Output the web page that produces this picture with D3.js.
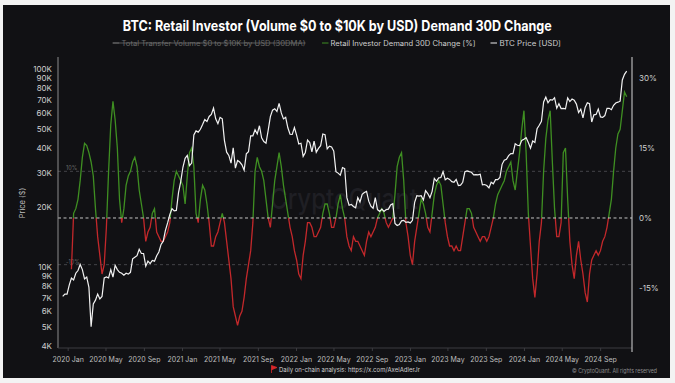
<!DOCTYPE html>
<html><head><meta charset="utf-8">
<script src="https://cdn.jsdelivr.net/npm/d3@7"></script>
<style>
html,body{margin:0;padding:0;background:#f3f3f3;}
svg{display:block;}
</style></head><body>
<svg id="c" width="675" height="383"></svg>
<script>
// ---------- data ----------
const titleText = "BTC: Retail Investor (Volume $0 to $10K by USD) Demand 30D Change";
const legendLabels = ["Total Transfer Volume $0 to $10K by USD (30DMA)", "Retail Investor Demand 30D Change [%]", "BTC Price [USD]"];
const priceTicks = [4000,5000,6000,7000,8000,9000,10000,20000,30000,40000,50000,60000,70000,80000,90000,100000];
const pctTicks = [-15, 0, 15, 30];
const guideLevels = [-10, 10];
const footerNote = "Daily on-chain analysis: https://x.com/AxelAdlerJr";
const copyright = "© CryptoQuant. All rights reserved";

// weekly (Mondays) from 2019-12-16 to 2024-11-25
const btcPrice = [
 7100,7300,7300,
 8100,8800,8600,9300,9600,10300,9700,8700,8900,7900,5000,6500,6800,7300,6900,7100,8800,8900,8800,9700,8900,10200,9700,9400,9300,9100,9300,9200,9400,11000,11200,11400,12300,11700,11700,10100,10700,10400,10800,10700,11400,11900,13000,13500,15300,16700,18400,19700,19200,19300,23800,27000,
 31900,35400,36600,32500,33500,46400,48700,48000,49600,52400,55600,54300,57600,59000,63500,56000,53000,57000,56000,43500,38000,36600,33500,40000,31600,34500,33900,32800,30800,37300,38200,46000,46000,49300,47000,51700,44900,43000,42200,49000,57500,62000,63000,61000,67000,60000,56000,57000,50500,46800,46700,50600,
 46400,41800,42200,36200,37900,43800,42500,38200,43200,38000,39700,41000,47000,46600,39500,40800,40400,38500,30300,29800,29100,31800,31400,22400,20500,20700,20200,19900,22400,21300,23300,23800,24100,21500,20300,19800,22400,19500,19100,19600,19100,19500,19600,20600,20900,16600,16200,16400,17100,17200,16800,16900,
 16700,17200,21200,22900,22800,22900,21800,24300,23500,22400,24100,28000,27100,28200,28300,30300,27600,28100,27700,27000,26800,27700,25800,25900,26800,30300,30600,30300,30100,29200,29300,29200,29400,26000,26100,25800,25100,26800,26300,27600,27600,28300,33000,34600,35000,36500,37400,37400,41900,41200,41000,43600,
 44200,45000,42500,39800,43300,42600,49900,52000,54500,68200,72100,67500,70000,69700,71600,63400,66800,63100,63200,62900,71400,68500,70500,69600,66500,60300,62700,56700,64000,67600,66800,54000,58700,59000,62800,57300,57000,58200,63300,63300,62300,65600,67300,68000,68800,88000,94000,97500
];
// retail investor demand 30D change (%), same weeks (first 4 weeks without data)
const retailDemand = [
 null,null,null,null,
 -11,1,2,4,8,13,16,15.5,14,12,
 9,2,-4,-8,-12,-10,-2,10,20,25,
 21,15,4,-1,2,7,9,10,12,13,
 11,6,3,0,-5,-3,-2,1,2,-3,
 -4,-5,-5,-4,-3,-1,4,8,10,9,
 8,7,3,9,14,15,11,1,-1,4,
 7,6,3,-1,-6,-6,-4,-3,-1,1,
 -1,-5,-9,-13,-19,-21,-23,-21,-20,-17,
 -13,-10,-7,-1,10,13,11,10,8,4,
 0,-2,3,8,11,14,11,7,4,1,
 -2,-4,-7,-9,-12,-13,-8,-5,-1,-1,
 -2,-4,-4,-3,-2,1,3,3,1,-2,
 -2,0,3,5,2,0,-4,-6,-7,-4,
 -5,-5,-6,-7,-8,-5,-3,-4,-3,-2,
 0,1,2,1,-1,-2,-1,0,5,11,
 13,14,8,-1,-4,-8,-10,-5,-2,1,
 4,3,1,-2,-3,1,5,7,8,7,
 3,-1,-4,-6,-6,-7,-6,-7,-7,-4,
 -1,2,2,1,-2,-3,-4,-5,-4,-4,
 -5,-4,-2,0,3,5,6,7,8,10,
 11,12,8,6,10,14,19,23,14,1,
 -6,-13,-17,-12,-5,-1,10,17,21,23,
 12,2,-4,-4,-1,14,15,4,-5,-10,
 -13,-8,-5,-9,-12,-16,-18,-12,-9,-8,
 -7,-8,-7,-5,-4,-2,1,4,10,15,
 18,19,23,27,26
];

// ---------- layout ----------
const W = 675, H = 383;
const L = 58, R = 632, T = 57, B = 348;
const C = {bg:"#111114", green:"#3f8f22", red:"#c3282b", white:"#f2f2f2", text:"#cfcfcf", dim:"#8a8a8a"};

const weeks = d3.timeMonday.range(new Date(2019,11,16), new Date(2024,11,2));
const btc = weeks.map((d,i)=>({d, v: btcPrice[i]})).filter(p=>p.v!=null);
const dem = weeks.map((d,i)=>({d, v: retailDemand[i]}));

const x = d3.scaleTime().domain([new Date(2019,11,1), new Date(2024,11,12)]).range([L, R]);
const yP = d3.scaleLog().domain([3898, 115000]).range([B, T]);
const yR = d3.scaleLinear().domain([-27.86, 34.5]).range([B, T]);

const svg = d3.select("#c");
svg.append("rect").attr("x",3).attr("y",5).attr("width",667).attr("height",373).attr("fill",C.bg);

// title
svg.append("text").attr("x",337.3).attr("y",31).attr("text-anchor","middle")
  .attr("font-family","Inter, 'Noto Sans', sans-serif").attr("font-weight",700).attr("font-size",14.5)
  .attr("fill","#ffffff").attr("textLength",429).attr("lengthAdjust","spacingAndGlyphs").text(titleText);

// legend
const lg = svg.append("g").attr("font-family","Inter, 'Noto Sans', sans-serif").attr("font-size",7);
const legendItems = [
  {x0:112.7, tx:121.5, w:184, dash:"#6a6a6a", fill:"#6a6a6a", strike:true},
  {x0:322, tx:330.5, w:145, dash:C.green, fill:C.text, strike:false},
  {x0:490.5, tx:499.5, w:61.5, dash:"#eeeeee", fill:C.text, strike:false}
];
legendItems.forEach((it,i)=>{
  lg.append("line").attr("x1",it.x0).attr("x2",it.x0+6.5).attr("y1",43).attr("y2",43).attr("stroke",it.dash).attr("stroke-width",1);
  lg.append("text").attr("x",it.tx).attr("y",45.5).attr("fill",it.fill)
    .attr("textLength",it.w).attr("lengthAdjust","spacingAndGlyphs").text(legendLabels[i]);
  if(it.strike) lg.append("line").attr("x1",it.x0).attr("x2",it.tx+it.w).attr("y1",43).attr("y2",43).attr("stroke",it.fill).attr("stroke-width",0.8);
});

// watermark
svg.append("text").attr("x",270).attr("y",209).attr("font-family","Inter, 'Noto Sans', sans-serif")
  .attr("font-size",28).attr("font-weight",500).attr("fill","#1f1f24").attr("textLength",148)
  .attr("lengthAdjust","spacingAndGlyphs").text("CryptoQuant");

// guide lines
const y0 = yR(0);
guideLevels.forEach(g=>{
  svg.append("line").attr("x1",L).attr("x2",R).attr("y1",yR(g)).attr("y2",yR(g))
    .attr("stroke","#4a4a4e").attr("stroke-width",0.9).attr("stroke-dasharray","3,3");
  svg.append("text").attr("x",66).attr("y",yR(g)-1).attr("font-family","Inter, sans-serif")
    .attr("font-size",5.5).attr("fill","#6a6a6a").text(g+"%");
});

// clip paths
const defs = svg.append("defs");
defs.append("clipPath").attr("id","pos").append("rect").attr("x",L).attr("y",T-10).attr("width",R-L).attr("height",y0-T+10);
defs.append("clipPath").attr("id","neg").append("rect").attr("x",L).attr("y",y0).attr("width",R-L).attr("height",B-y0);

const demLine = d3.line().defined(d=>d.v!=null).x(d=>x(d.d)).y(d=>yR(d.v));
svg.append("path").datum(dem).attr("d",demLine).attr("fill","none").attr("stroke",C.green).attr("stroke-width",1.3).attr("clip-path","url(#pos)");
svg.append("path").datum(dem).attr("d",demLine).attr("fill","none").attr("stroke",C.red).attr("stroke-width",1.3).attr("clip-path","url(#neg)");

// zero line
svg.append("line").attr("x1",L).attr("x2",R).attr("y1",y0).attr("y2",y0)
  .attr("stroke","#d8d8d8").attr("stroke-width",0.9).attr("stroke-dasharray","3,2.5");

// BTC price
const btcLine = d3.line().x(d=>x(d.d)).y(d=>yP(d.v));
svg.append("path").datum(btc).attr("d",btcLine).attr("fill","none").attr("stroke",C.white).attr("stroke-width",1.2);

// axes lines
svg.append("line").attr("x1",L).attr("x2",L).attr("y1",T).attr("y2",B).attr("stroke","#8c8c8c").attr("stroke-width",1);
svg.append("line").attr("x1",L).attr("x2",R).attr("y1",B).attr("y2",B).attr("stroke","#3c3c40").attr("stroke-width",1);
svg.append("line").attr("x1",R).attr("x2",R).attr("y1",T).attr("y2",B+4).attr("stroke","#d6d6d6").attr("stroke-width",1);

// left axis
const fmtK = d => (d/1000) + "K";
const gl = svg.append("g").attr("transform",`translate(${L-6},0)`)
  .call(d3.axisLeft(yP).tickValues(priceTicks).tickFormat(fmtK).tickSize(0).tickPadding(0));
gl.select(".domain").remove();
gl.selectAll("text").attr("font-family","Inter, 'Noto Sans', sans-serif").attr("font-size",8).attr("fill",C.text);

// right axis
const gr = svg.append("g").attr("transform",`translate(${R+7},0)`)
  .call(d3.axisRight(yR).tickValues(pctTicks).tickFormat(d=>d+"%").tickSize(0).tickPadding(0));
gr.select(".domain").remove();
gr.selectAll("text").attr("font-family","Inter, 'Noto Sans', sans-serif").attr("font-size",8).attr("fill",C.text);

// bottom axis
const gx = svg.append("g").attr("transform",`translate(0,${B})`)
  .call(d3.axisBottom(x).ticks(d3.timeMonth.every(4)).tickFormat(d3.timeFormat("%Y %b")).tickSize(3).tickPadding(6));
gx.select(".domain").remove();
gx.selectAll("line").attr("stroke","#3c3c40");
gx.selectAll("text").attr("font-family","Inter, 'Noto Sans', sans-serif").attr("font-size",7).attr("fill","#bdbdbd");

// y title
svg.append("text").attr("transform","translate(25,203) rotate(-90)").attr("text-anchor","middle")
  .attr("font-family","Inter, 'Noto Sans', sans-serif").attr("font-size",7.5).attr("fill","#bdbdbd").text("Price ($)");

// footer
svg.append("path").attr("d","M271.5,373 L271.5,365.5 L277,367.5 L271.5,369.8").attr("fill","#d8282a").attr("stroke","#d8282a").attr("stroke-width",0.8);
svg.append("text").attr("x",279).attr("y",371.5).attr("font-family","Inter, 'Noto Sans', sans-serif")
  .attr("font-size",6.5).attr("fill","#cfcfcf").attr("textLength",141).attr("lengthAdjust","spacingAndGlyphs").text(footerNote);
svg.append("text").attr("x",572).attr("y",372.5).attr("font-family","Inter, 'Noto Sans', sans-serif")
  .attr("font-size",5.5).attr("fill","#8e8e8e").attr("textLength",85).attr("lengthAdjust","spacingAndGlyphs").text(copyright);
</script>
</body></html>
